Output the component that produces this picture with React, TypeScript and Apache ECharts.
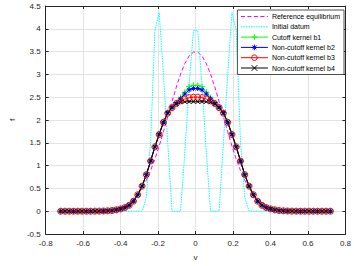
import React, { useEffect, useRef } from "react";
import * as echarts from "echarts";

// velocity grid (64 points)
const vGrid = [
  -0.72, -0.69714, -0.67429, -0.65143, -0.62857, -0.60571, -0.58286, -0.56, -0.53714, -0.51429,
  -0.49143, -0.46857, -0.44571, -0.42286, -0.4, -0.37714, -0.35429, -0.33143, -0.30857, -0.28571,
  -0.26286, -0.24, -0.21714, -0.19429, -0.17143, -0.14857, -0.12571, -0.10286, -0.08, -0.05714,
  -0.03429, -0.01143,
  0.01143, 0.03429, 0.05714, 0.08, 0.10286, 0.12571, 0.14857, 0.17143, 0.19429, 0.21714,
  0.24, 0.26286, 0.28571, 0.30857, 0.33143, 0.35429, 0.37714, 0.4, 0.42286, 0.44571,
  0.46857, 0.49143, 0.51429, 0.53714, 0.56, 0.58286, 0.60571, 0.62857, 0.65143, 0.67429,
  0.69714, 0.72,
];

const refEquilibrium = [
  0, 0, 0, 0, 0, 0.001, 0.001, 0.002, 0.004, 0.0065,
  0.011, 0.019, 0.031, 0.05, 0.078, 0.119, 0.177, 0.257, 0.363, 0.502,
  0.677, 0.89, 1.141, 1.427, 1.741, 2.072, 2.405, 2.722, 3.006, 3.239,
  3.404, 3.489,
  3.489, 3.404, 3.239, 3.006, 2.722, 2.405, 2.072, 1.741, 1.427, 1.141,
  0.89, 0.677, 0.502, 0.363, 0.257, 0.177, 0.119, 0.078, 0.05, 0.031,
  0.019, 0.011, 0.0065, 0.004, 0.002, 0.001, 0.001, 0, 0, 0,
  0, 0,
];

const initialDatum = [
  0, 0, 0, 0, 0, 0, 0, 0, 0, 0,
  0, 0, 0, 0, 0, 0, 0, 0, 0, 0,
  0.3, 1.5, 3.96, 4.36, 3.0, 1.5, 0, 0, 0, 1.3,
  2.79, 3.96,
  3.96, 2.79, 1.3, 0, 0, 0, 1.5, 3.0, 4.36, 3.96,
  1.5, 0.3, 0, 0, 0, 0, 0, 0, 0, 0,
  0, 0, 0, 0, 0, 0, 0, 0, 0, 0,
  0, 0,
];

const cutoffB1 = [
  0, 0, 0, 0, 0, 0, 0, 0, 0.001, 0.002,
  0.004, 0.008, 0.015, 0.03, 0.05, 0.08, 0.13, 0.22, 0.36, 0.55,
  0.8, 1.1, 1.42, 1.7, 1.96, 2.16, 2.28, 2.38, 2.49, 2.61,
  2.73, 2.76,
  2.76, 2.73, 2.61, 2.49, 2.38, 2.28, 2.16, 1.96, 1.7, 1.42,
  1.1, 0.8, 0.55, 0.36, 0.22, 0.13, 0.08, 0.05, 0.03, 0.015,
  0.008, 0.004, 0.002, 0.001, 0, 0, 0, 0, 0, 0,
  0, 0,
];

const nonCutoffB2 = [
  0, 0, 0, 0, 0, 0, 0, 0, 0.001, 0.002,
  0.004, 0.008, 0.015, 0.03, 0.05, 0.08, 0.13, 0.22, 0.36, 0.55,
  0.8, 1.1, 1.41, 1.69, 1.95, 2.16, 2.28, 2.37, 2.47, 2.57,
  2.66, 2.69,
  2.69, 2.66, 2.57, 2.47, 2.37, 2.28, 2.16, 1.95, 1.69, 1.41,
  1.1, 0.8, 0.55, 0.36, 0.22, 0.13, 0.08, 0.05, 0.03, 0.015,
  0.008, 0.004, 0.002, 0.001, 0, 0, 0, 0, 0, 0,
  0, 0,
];

const nonCutoffB3 = [
  0, 0, 0, 0, 0, 0, 0, 0, 0.001, 0.002,
  0.004, 0.008, 0.015, 0.03, 0.05, 0.08, 0.13, 0.22, 0.36, 0.55,
  0.8, 1.1, 1.41, 1.68, 1.95, 2.15, 2.27, 2.36, 2.42, 2.46,
  2.49, 2.5,
  2.5, 2.49, 2.46, 2.42, 2.36, 2.27, 2.15, 1.95, 1.68, 1.41,
  1.1, 0.8, 0.55, 0.36, 0.22, 0.13, 0.08, 0.05, 0.03, 0.015,
  0.008, 0.004, 0.002, 0.001, 0, 0, 0, 0, 0, 0,
  0, 0,
];

const nonCutoffB4 = [
  0, 0, 0, 0, 0, 0, 0, 0, 0.001, 0.002,
  0.004, 0.008, 0.015, 0.03, 0.05, 0.08, 0.13, 0.22, 0.36, 0.55,
  0.8, 1.1, 1.41, 1.68, 1.95, 2.15, 2.27, 2.35, 2.39, 2.4,
  2.4, 2.4,
  2.4, 2.4, 2.4, 2.39, 2.35, 2.27, 2.15, 1.95, 1.68, 1.41,
  1.1, 0.8, 0.55, 0.36, 0.22, 0.13, 0.08, 0.05, 0.03, 0.015,
  0.008, 0.004, 0.002, 0.001, 0, 0, 0, 0, 0, 0,
  0, 0,
];

const seriesNames = [
  "Reference equilibrium",
  "Initial datum",
  "Cutoff kernel b1",
  "Non-cutoff kernel b2",
  "Non-cutoff kernel b3",
  "Non-cutoff kernel b4",
];

const FONT = "'Liberation Sans', Arial, Helvetica, sans-serif";
const AXIS = "#262626";
const GRIDC = "#e3e3e3";

const pair = (ys: number[]) => vGrid.map((v, i) => [v, ys[i]]);

const SYM_PLUS = "path://M0,5L10,5M5,0L5,10";
const SYM_STAR = "path://M0,5L10,5M5,0L5,10M1.5,1.5L8.5,8.5M1.5,8.5L8.5,1.5";
const SYM_X = "path://M0,0L10,10M0,10L10,0";

export default function App() {
  const ref = useRef<HTMLDivElement>(null);
  useEffect(() => {
    if (!ref.current) return;
    const chart = echarts.init(ref.current, undefined, { renderer: "svg" });
    const axisCommon = {
      axisLine: { show: true, onZero: false, lineStyle: { color: AXIS, width: 1 } },
      axisTick: { show: true, inside: true, length: 3, lineStyle: { color: AXIS, width: 1 } },
    };
    const mkLine = (
      name: string,
      ys: number[],
      color: string,
      symbol: string,
      size: number,
      fill: string
    ) => ({
      name,
      type: "line",
      data: pair(ys),
      symbol,
      symbolSize: size,
      showSymbol: true,
      lineStyle: { color, width: 1 },
      itemStyle: { color: fill, borderColor: color, borderWidth: 1 },
      emphasis: { disabled: true },
    });
    const hiddenIcon = { color: "transparent", borderColor: "transparent", borderWidth: 0 };
    chart.setOption({
      animation: false,
      backgroundColor: "#ffffff",
      textStyle: { fontFamily: FONT },
      grid: { left: 32, right: 5, top: 6, bottom: 28, containLabel: false },
      legend: {
        orient: "vertical",
        right: 10,
        top: 10,
        padding: [3, 4, 3, 3],
        backgroundColor: "#ffffff",
        borderColor: AXIS,
        borderWidth: 0.8,
        itemWidth: 27,
        itemHeight: 7,
        itemGap: 3.3,
        lineStyle: { width: 1 },
        itemStyle: { borderWidth: 1 },
        textStyle: { fontSize: 7, color: "#000", fontFamily: FONT, lineHeight: 7, padding: [0, 0, 0, -1] },
        data: [
          { name: seriesNames[0], itemStyle: hiddenIcon },
          { name: seriesNames[1], itemStyle: hiddenIcon },
          { name: seriesNames[2] },
          { name: seriesNames[3] },
          { name: seriesNames[4] },
          { name: seriesNames[5] },
        ],
      },
      xAxis: [
        {
          type: "value",
          min: -0.8,
          max: 0.8,
          interval: 0.2,
          position: "bottom",
          ...axisCommon,
          axisLabel: { fontSize: 8, color: AXIS, margin: 5, fontFamily: FONT },
          splitLine: { show: true, lineStyle: { color: GRIDC, width: 1 } },
          name: "v",
          nameLocation: "middle",
          nameGap: 19,
          nameTextStyle: { fontSize: 8, color: AXIS, fontFamily: FONT },
        },
        {
          type: "value",
          min: -0.8,
          max: 0.8,
          interval: 0.2,
          position: "top",
          ...axisCommon,
          axisLabel: { show: false },
          splitLine: { show: false },
        },
      ],
      yAxis: [
        {
          type: "value",
          min: -0.5,
          max: 4.5,
          interval: 0.5,
          position: "left",
          ...axisCommon,
          axisLabel: { fontSize: 8, color: AXIS, margin: 5, fontFamily: FONT },
          splitLine: { show: true, lineStyle: { color: GRIDC, width: 1 } },
          name: "f",
          nameLocation: "middle",
          nameGap: 24,
          nameRotate: 90,
          nameTextStyle: { fontSize: 8, color: AXIS, fontFamily: FONT },
        },
        {
          type: "value",
          min: -0.5,
          max: 4.5,
          interval: 0.5,
          position: "right",
          ...axisCommon,
          axisLabel: { show: false },
          splitLine: { show: false },
        },
      ],
      series: [
        {
          name: seriesNames[0],
          type: "line",
          data: pair(refEquilibrium),
          showSymbol: false,
          symbol: "none",
          lineStyle: { color: "#ff00ff", width: 1, type: [4, 2.5] },
          itemStyle: { color: "#ff00ff" },
          emphasis: { disabled: true },
        },
        {
          name: seriesNames[1],
          type: "line",
          data: pair(initialDatum),
          showSymbol: false,
          symbol: "none",
          lineStyle: { color: "#00ffff", width: 1, type: [1.5, 1] },
          itemStyle: { color: "#00ffff" },
          emphasis: { disabled: true },
        },
        mkLine(seriesNames[2], cutoffB1, "#00ff00", SYM_PLUS, 6, "#00ff00"),
        mkLine(seriesNames[3], nonCutoffB2, "#0000ff", SYM_STAR, 5, "#0000ff"),
        mkLine(seriesNames[4], nonCutoffB3, "#ff0000", "circle", 6, "transparent"),
        mkLine(seriesNames[5], nonCutoffB4, "#000000", SYM_X, 4, "#000000"),
      ],
    });
    return () => chart.dispose();
  }, []);
  return <div ref={ref} style={{ width: 354, height: 266, position: "absolute", left: 0, top: 0 }} />;
}
